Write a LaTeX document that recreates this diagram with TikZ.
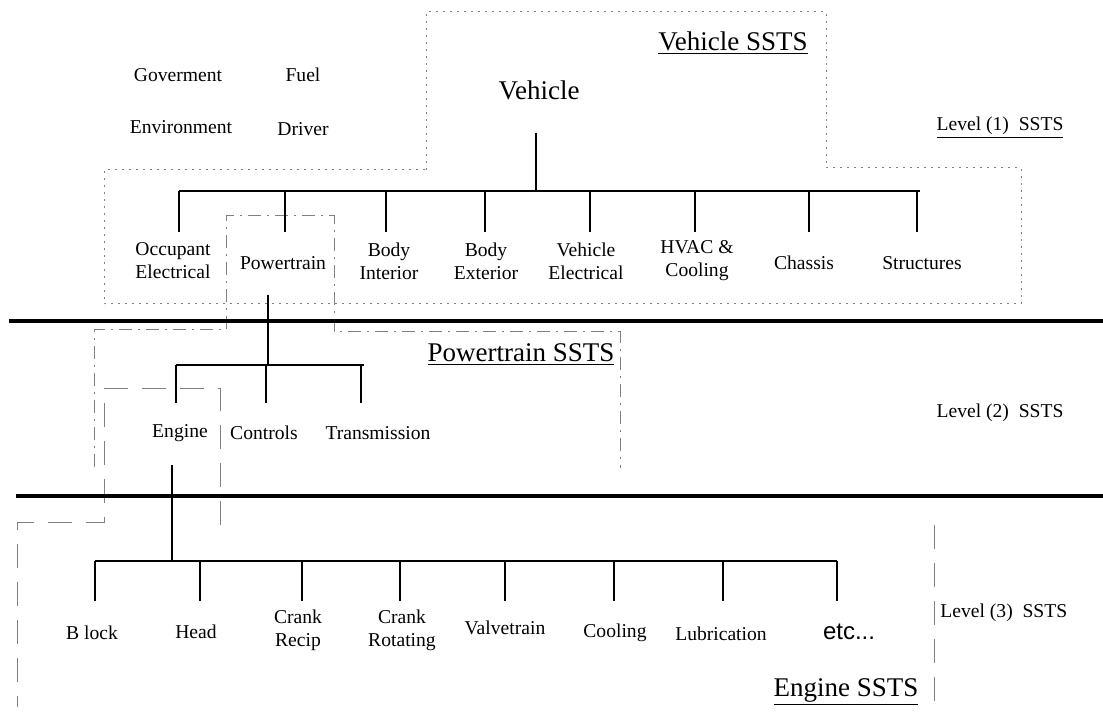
\documentclass[tikz,border=0pt]{standalone}
\usepackage{fontspec}
\setmainfont{Liberation Serif}
\newfontfamily\etcfont{Liberation Sans}
\begin{document}
\begin{tikzpicture}[x=0.5pt,y=-0.5pt,
  lbl/.style={font=\fontsize{9.8}{11.5}\selectfont,align=center,inner sep=1pt},
  ttl/.style={font=\fontsize{13.5}{16}\selectfont,inner sep=1pt},
  branch/.style={line width=1.4pt},
  divider/.style={line width=2pt},
  vehbox/.style={gray,line width=0.5pt,dash pattern=on 1.2pt off 2.3pt},
  ptbox/.style={gray,line width=0.5pt,dash pattern=on 6.5pt off 3pt on 1pt off 3pt},
  engbox/.style={gray,line width=0.5pt,dash pattern=on 12pt off 7pt}]
  \useasboundingbox (0,0) rectangle (1103,715);
  % region outlines
  \draw[vehbox] (426,170) -- (426,12) -- (826,12) -- (826,168) -- (1021,168)
    -- (1021,304) -- (104,304) -- (104,170) -- cycle;
  \draw[ptbox] (94,467) -- (94,330) -- (226,330) -- (226,216) -- (334,216)
    -- (334,332) -- (620,332) -- (620,468);
  \draw[engbox] (220,525) -- (220,389) -- (104,389) -- (104,523) -- (17,523) -- (17,707);
  \draw[engbox] (934,525) -- (934,707);
  % level dividers
  \coordinate (d1l) at (9,321);
  \coordinate (d1r) at (1103,321);
  \coordinate (d2l) at (16,496);
  \coordinate (d2r) at (1103,496);
  \draw[divider] (d1l) -- (d1r);
  \draw[divider] (d2l) -- (d2r);
  % level 1
  \node[ttl] (veh) at (539,90) {Vehicle};
  \node[lbl] (gov) at (178,75) {Goverment};
  \node[lbl] (fuel) at (303,75) {Fuel};
  \node[lbl] (env) at (181,127) {Environment};
  \node[lbl] (drv) at (303,129) {Driver};
  \node[ttl] (vttl) at (733,43) {\underline{Vehicle SSTS}};
  \node[lbl] (lvl1) at (1000,128) {\underline{Level (1)\ \ SSTS}};
  \node[lbl] (occ) at (173,261) {Occupant\\Electrical};
  \node[lbl] (pwt) at (283,263) {Powertrain};
  \node[lbl] (bint) at (389,261) {Body\\Interior};
  \node[lbl] (bext) at (486,261) {Body\\Exterior};
  \node[lbl] (vel) at (586,261) {Vehicle\\Electrical};
  \node[lbl] (hvac) at (697,261) {HVAC \&\\Cooling};
  \node[lbl] (chs) at (804,263) {Chassis};
  \node[lbl] (str) at (922,263) {Structures};
  \coordinate (vtop) at (536,133);
  \coordinate (l1l) at (179,191);
  \coordinate (l1r) at (920,191);
  \coordinate (s-occ) at (179,232);
  \coordinate (s-pwt) at (285,232);
  \coordinate (s-bint) at (386,232);
  \coordinate (s-bext) at (485,232);
  \coordinate (s-vel) at (590,232);
  \coordinate (s-hvac) at (695,232);
  \coordinate (s-chs) at (809,232);
  \coordinate (s-str) at (917,232);
  \draw[branch] (vtop) -- (vtop |- l1l);
  \draw[branch] (l1l) -- (l1r);
  \draw[branch] (s-occ |- l1l) -- (s-occ);
  \draw[branch] (s-pwt |- l1l) -- (s-pwt);
  \draw[branch] (s-bint |- l1l) -- (s-bint);
  \draw[branch] (s-bext |- l1l) -- (s-bext);
  \draw[branch] (s-vel |- l1l) -- (s-vel);
  \draw[branch] (s-hvac |- l1l) -- (s-hvac);
  \draw[branch] (s-chs |- l1l) -- (s-chs);
  \draw[branch] (s-str |- l1l) -- (s-str);
  % level 2
  \node[lbl] (eng) at (180,433) {Engine};
  \node[lbl] (ctl) at (264,433) {Controls};
  \node[lbl] (trn) at (378,433) {Transmission};
  \node[ttl] (pttl) at (521,355) {\underline{Powertrain SSTS}};
  \node[lbl] (lvl2) at (1000,413) {Level (2)\ \ SSTS};
  \coordinate (ptop) at (268,295);
  \coordinate (l2l) at (176,365);
  \coordinate (l2r) at (364,365);
  \coordinate (s-eng) at (176,403);
  \coordinate (s-ctl) at (266,403);
  \coordinate (s-trn) at (361,403);
  \draw[branch] (ptop) -- (ptop |- l2l);
  \draw[branch] (l2l) -- (l2r);
  \draw[branch] (s-eng |- l2l) -- (s-eng);
  \draw[branch] (s-ctl |- l2l) -- (s-ctl);
  \draw[branch] (s-trn |- l2l) -- (s-trn);
  % level 3
  \node[lbl] (blk) at (92,633) {B lock};
  \node[lbl] (head) at (196,632) {Head};
  \node[lbl] (crr) at (298,630) {Crank\\Recip};
  \node[lbl] (crt) at (402,630) {Crank\\Rotating};
  \node[lbl] (vlv) at (505,628) {Valvetrain};
  \node[lbl] (cool) at (615,633) {Cooling};
  \node[lbl] (lub) at (721,634) {Lubrication};
  \node[lbl,font=\etcfont\fontsize{12}{14}\selectfont] (etc) at (849,632) {etc...};
  \node[ttl] (ettl) at (846,692) {\underline{Engine SSTS}};
  \node[lbl,anchor=west] (lvl3) at (938,613) {Level (3)\ \ SSTS};
  \coordinate (etop) at (172,465);
  \coordinate (l3l) at (95,561);
  \coordinate (l3r) at (837,561);
  \coordinate (s-blk) at (95,601);
  \coordinate (s-head) at (200,601);
  \coordinate (s-crr) at (302,601);
  \coordinate (s-crt) at (400,601);
  \coordinate (s-vlv) at (505,601);
  \coordinate (s-cool) at (614,601);
  \coordinate (s-lub) at (723,601);
  \coordinate (s-etc) at (837,601);
  \draw[branch] (etop) -- (etop |- l3l);
  \draw[branch] (l3l) -- (l3r);
  \draw[branch] (s-blk |- l3l) -- (s-blk);
  \draw[branch] (s-head |- l3l) -- (s-head);
  \draw[branch] (s-crr |- l3l) -- (s-crr);
  \draw[branch] (s-crt |- l3l) -- (s-crt);
  \draw[branch] (s-vlv |- l3l) -- (s-vlv);
  \draw[branch] (s-cool |- l3l) -- (s-cool);
  \draw[branch] (s-lub |- l3l) -- (s-lub);
  \draw[branch] (s-etc |- l3l) -- (s-etc);
\end{tikzpicture}
\end{document}
